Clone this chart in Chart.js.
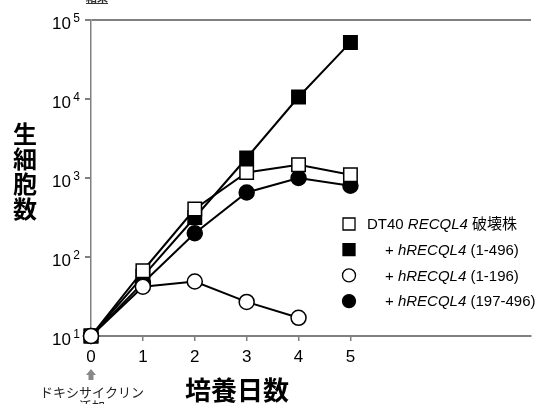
<!DOCTYPE html>
<html>
<head>
<meta charset="utf-8">
<script src="https://cdn.jsdelivr.net/npm/chart.js@4/dist/chart.umd.min.js"></script>
<style>
  body { margin: 0; background: #fff; }
  canvas { display: block; }
</style>
</head>
<body>
<canvas id="myChart" width="542" height="404"></canvas>
<script>
// data
const days = [0, 1, 2, 3, 4, 5];
const dt40 = [10, 67, 405, 1175, 1470, 1100];          // DT40 RECQL4 破壊株
const full = [10, 57, 316, 1790, 10600, 52000];        // + hRECQL4 (1-496)
const nterm = [10, 42, 49, 27, 17];                    // + hRECQL4 (1-196)
const cterm = [10, 47, 200, 655, 1000, 800];           // + hRECQL4 (197-496)
const yTicks = [10, 100, 1000, 10000, 100000];
const yExps = ['1', '2', '3', '4', '5'];
const xTicks = [0, 1, 2, 3, 4, 5];

const legendRows = [
  { style: 'rect', fill: '#fff', parts: [['DT40 ', ''], ['RECQL4', 'italic '], [' 破壊株', '']], x: 367 },
  { style: 'rect', fill: '#000', parts: [['+ ', ''], ['hRECQL4', 'italic '], [' (1-496)', '']], x: 385 },
  { style: 'circle', fill: '#fff', parts: [['+ ', ''], ['hRECQL4', 'italic '], [' (1-196)', '']], x: 385 },
  { style: 'circle', fill: '#000', parts: [['+ ', ''], ['hRECQL4', 'italic '], [' (197-496)', '']], x: 385 }
];

function pts(vals) {
  return vals.map((v, i) => ({ x: days[i], y: v }));
}

function ds(vals, style, fill, order) {
  return {
    data: pts(vals),
    borderColor: '#000',
    borderWidth: 2,
    pointStyle: style,
    pointRadius: style === 'rect' ? 9.5 : 7.5,
    pointBackgroundColor: fill,
    pointBorderColor: '#000',
    pointBorderWidth: 1.5,
    tension: 0,
    clip: false,
    order: order
  };
}

const extras = {
  id: 'extras',
  afterDraw(chart) {
    const c = chart.ctx;
    const y = chart.scales.y;
    c.save();
    c.fillStyle = '#000';

    // y tick labels with superscripts
    yTicks.forEach((v, i) => {
      const py = y.getPixelForValue(v);
      c.textBaseline = 'alphabetic';
      c.textAlign = 'right';
      c.font = '12px "Liberation Sans", Arial, sans-serif';
      c.fillText(yExps[i], 80, py + 2);
      c.font = '17px "Liberation Sans", Arial, sans-serif';
      c.fillText('10', 71, py + 9);
    });

    // y title, stacked vertically
    c.font = 'bold 24px "Noto Sans CJK JP", sans-serif';
    c.textAlign = 'center';
    c.textBaseline = 'middle';
    ['生', '細', '胞', '数'].forEach((ch, i) => c.fillText(ch, 25, 134 + i * 25));

    // x title
    c.font = 'bold 26px "Noto Sans CJK JP", sans-serif';
    c.fillText('培養日数', 237, 390);

    // doxycycline note with arrow
    c.font = '13px "Noto Sans CJK JP", sans-serif';
    c.fillStyle = '#222';
    c.fillText('ドキシサイクリン', 92, 392);
    c.fillText('添加', 92, 406);
    c.fillStyle = '#888';
    c.beginPath();
    c.moveTo(91, 369);
    c.lineTo(96, 375);
    c.lineTo(93.5, 375);
    c.lineTo(93.5, 380);
    c.lineTo(88.5, 380);
    c.lineTo(88.5, 375);
    c.lineTo(86, 375);
    c.closePath();
    c.fill();

    // cut-off heading at the very top
    c.fillStyle = '#333';
    c.font = 'bold 11px "Noto Sans CJK JP", sans-serif';
    c.textAlign = 'left';
    c.textBaseline = 'alphabetic';
    c.fillText('結果', 86, 2);
    c.fillRect(86, 3, 22, 1);

    // legend
    legendRows.forEach((r, i) => {
      const cy = 224 + i * 25.7;
      c.fillStyle = r.fill;
      c.strokeStyle = '#000';
      c.lineWidth = 1.3;
      c.beginPath();
      if (r.style === 'rect') c.rect(343, cy - 6, 12, 12);
      else c.arc(349, cy, 6.5, 0, Math.PI * 2);
      c.fill();
      c.stroke();
      c.fillStyle = '#000';
      c.textBaseline = 'middle';
      c.textAlign = 'left';
      let tx = r.x;
      r.parts.forEach(([t, f]) => {
        c.font = f + '15px "Liberation Sans", Arial, "Noto Sans CJK JP", sans-serif';
        c.fillText(t, tx, cy + 1);
        tx += c.measureText(t).width;
      });
    });
    c.restore();
  }
};

let ctx = document.getElementById('myChart').getContext('2d');
let myChart = new Chart(ctx, {
  type: 'line',
  data: {
    datasets: [
      ds(nterm, 'circle', '#fff', 1),
      ds(dt40, 'rect', '#fff', 2),
      ds(full, 'rect', '#000', 3),
      ds(cterm, 'circle', '#000', 4)
    ]
  },
  options: {
    responsive: false,
    devicePixelRatio: 1,
    animation: false,
    layout: { padding: { top: 20, left: 0, right: 0, bottom: 0 } },
    plugins: {
      legend: { display: false },
      tooltip: { enabled: false }
    },
    scales: {
      x: {
        type: 'linear',
        min: 0,
        max: 8.48,
        afterBuildTicks: s => { s.ticks = xTicks.map(v => ({ value: v })); },
        afterFit: s => { s.height = 68; },
        border: { color: '#808080', width: 2 },
        grid: { drawOnChartArea: false, drawTicks: true, tickLength: 5, tickColor: '#808080', lineWidth: 1.5 },
        ticks: {
          color: '#000',
          padding: 6,
          maxRotation: 0,
          font: { size: 17, family: '"Liberation Sans", Arial, sans-serif' }
        }
      },
      y: {
        type: 'logarithmic',
        min: 10,
        max: 100000,
        afterBuildTicks: s => { s.ticks = yTicks.map(v => ({ value: v })); },
        afterFit: s => { s.width = 91; },
        border: { color: '#808080', width: 1.5 },
        grid: {
          drawTicks: true,
          tickLength: 6,
          tickColor: '#808080',
          lineWidth: 2,
          color: c => (c.tick && c.tick.value === 100000 ? '#808080' : 'rgba(0,0,0,0)')
        },
        ticks: { color: 'rgba(0,0,0,0)', callback: () => '' }
      }
    }
  },
  plugins: [extras]
});
</script>
</body>
</html>
